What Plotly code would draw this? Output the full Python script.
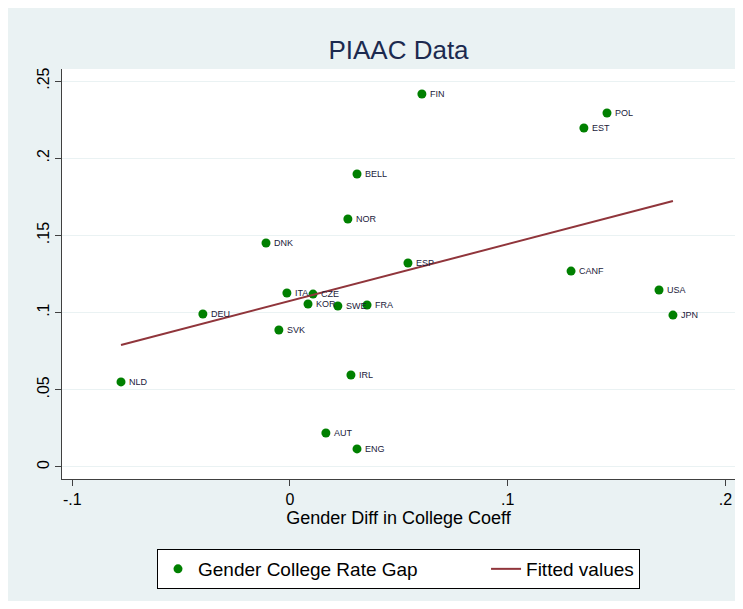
import plotly.graph_objects as go

countries = ["FIN", "POL", "EST", "BELL", "NOR", "DNK", "ESP", "CANF", "USA", "JPN",
             "ITA", "CZE", "KOR", "SWE", "FRA", "DEU", "SVK", "NLD", "IRL", "AUT", "ENG"]
college_coeff_diff = [0.0606, 0.1456, 0.1350, 0.0308, 0.0266, -0.0110, 0.0542, 0.1291, 0.1695, 0.1759,
                      -0.0014, 0.0106, 0.0083, 0.0220, 0.0354, -0.0400, -0.0051, -0.0776, 0.0280, 0.0165, 0.0308]
college_rate_gap = [0.2416, 0.2293, 0.2196, 0.1898, 0.1606, 0.1451, 0.1321, 0.1269, 0.1146, 0.0984,
                    0.1127, 0.1120, 0.1056, 0.1043, 0.1049, 0.0991, 0.0887, 0.0551, 0.0596, 0.0220, 0.0117]
fit_x = [-0.0776, 0.1759]
fit_y = [0.0790, 0.1723]

x_ticks = [-0.1, 0, 0.1, 0.2]
x_ticktext = ["-.1", "0", ".1", ".2"]
y_ticks = [0, 0.05, 0.1, 0.15, 0.2, 0.25]
y_ticktext = ["0", ".05", ".1", ".15", ".2", ".25"]

BG = "#EAF2F3"
FONT = "Liberation Sans, Arial, sans-serif"
W, H = 727, 593
PW, PH = 673, 410

fig = go.Figure()
fig.add_trace(go.Scatter(
    x=college_coeff_diff, y=college_rate_gap, mode="markers",
    marker=dict(color="#008000", size=9),
    name="Gender College Rate Gap" + "\u00a0" * 12))
fig.add_trace(go.Scatter(
    x=fit_x, y=fit_y, mode="lines",
    line=dict(color="#90353B", width=2),
    name="Fitted values"))

for cx, cy, name in zip(college_coeff_diff, college_rate_gap, countries):
    fig.add_annotation(x=cx, y=cy, text=name, showarrow=False, xanchor="left", yanchor="middle",
                       xshift=6, font=dict(size=9, color="#1a1a3a", family=FONT))

fig.update_layout(
    width=W, height=H,
    margin=dict(l=54, r=0, t=61, b=122, autoexpand=False),
    paper_bgcolor=BG, plot_bgcolor="white",
    font=dict(family=FONT, color="black"),
    title=dict(text="PIAAC Data", xref="paper", x=0.5, xanchor="center", y=1 - 42 / H, yanchor="middle",
               font=dict(size=26, color="#1C2A4F", family=FONT)),
    showlegend=True,
    legend=dict(orientation="h", x=0.5, xanchor="center", y=-70 / PH, yanchor="top",
                bgcolor="white", bordercolor="black", borderwidth=1,
                font=dict(size=19, color="black", family=FONT),
                itemwidth=30),
    xaxis=dict(range=[-0.1047, 0.2044], tickvals=x_ticks, ticktext=x_ticktext, automargin=False,
               showgrid=False, zeroline=False, showline=True, linecolor="#404040", linewidth=1,
               ticks="outside", ticklen=6, tickcolor="#404040",
               tickfont=dict(size=16),
               title=dict(text="Gender Diff in College Coeff", font=dict(size=18), standoff=2)),
    yaxis=dict(range=[-0.0078, 0.2578], tickvals=y_ticks, ticktext=y_ticktext, automargin=False,
               showgrid=True, gridcolor=BG, gridwidth=1, zeroline=False,
               showline=True, linecolor="#404040", linewidth=1,
               ticks="outside", ticklen=6, tickcolor="#404040",
               tickangle=-90, tickfont=dict(size=16)),
)

fig.write_html("out.html")
